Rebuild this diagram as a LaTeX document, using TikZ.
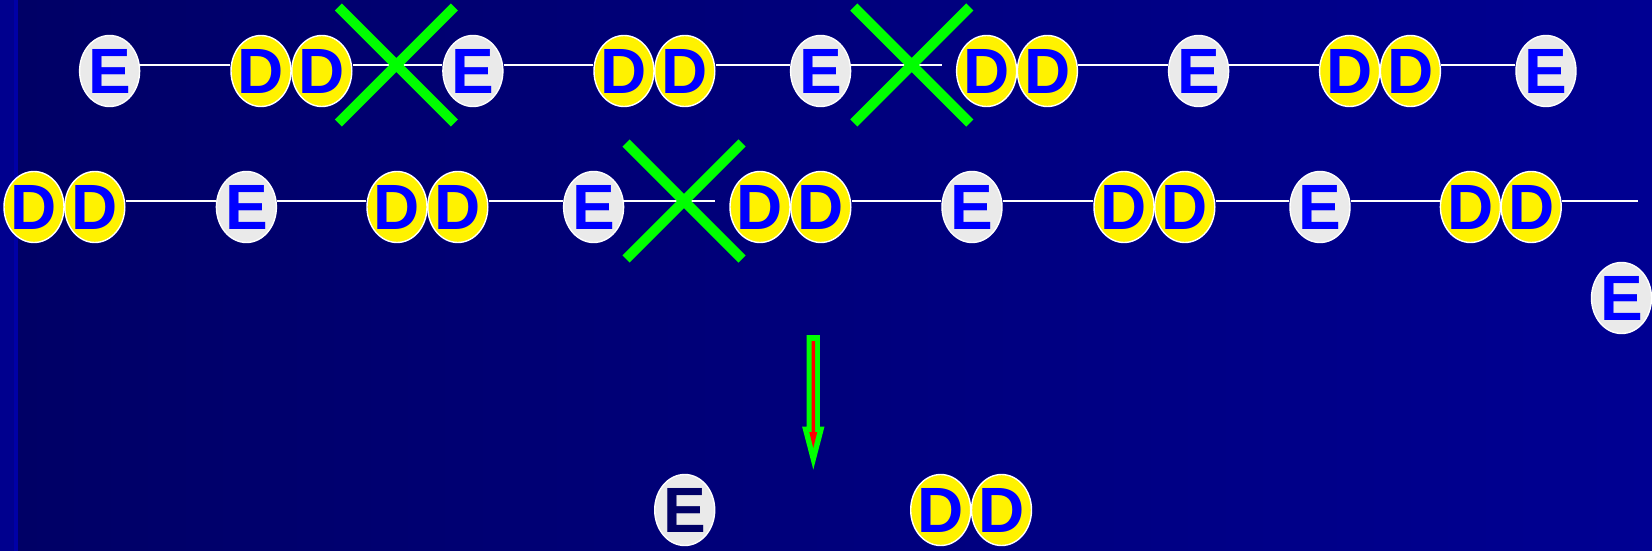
\documentclass[tikz,border=0pt]{standalone}
\usepackage{fontspec}
\setmainfont{Liberation Sans}
\usetikzlibrary{shapes.geometric}

\definecolor{navyA}{HTML}{000066}
\definecolor{navyB}{HTML}{000092}
\definecolor{edgeblue}{HTML}{00008E}
\definecolor{stripeblue}{HTML}{0000A6}
\definecolor{paleE}{HTML}{EAEAEA}
\definecolor{letterblue}{HTML}{0000FF}
\definecolor{crossgreen}{HTML}{00FF00}

\tikzset{
  token/.style={ellipse, draw=white, line width=1.4pt, minimum width=60pt,
    minimum height=71pt, inner sep=0pt,
    font=\bfseries\fontsize{64}{64}\selectfont, text=letterblue},
  enode/.style={token, fill=paleE},
  dnode/.style={token, fill=yellow},
  link/.style={white, line width=2pt},
  cross/.style={crossgreen, line width=10pt},
}
\newcommand{\tokE}{\makebox[0pt]{E}}
\newcommand{\tokD}{\makebox[0pt]{D}}

\begin{document}
\begin{tikzpicture}[x=1pt, y=-1pt]
  \useasboundingbox (0,0) rectangle (1652,551);
  % backdrop
  \fill[edgeblue] (0,0) rectangle (14,551);
  \fill[stripeblue] (14,0) rectangle (18,551);
  \shade[left color=navyA, right color=navyB] (18,0) rectangle (1652,551);

  % ---- first row ----
  \node[enode] (ra1) at (109.6,71) {\tokE};
  \node[dnode] (ra2) at (261,71) {\tokD};
  \node[dnode] (ra3) at (321.8,71) {\tokD};
  \node[enode] (ra4) at (472.9,71) {\tokE};
  \node[dnode] (ra5) at (624,71) {\tokD};
  \node[dnode] (ra6) at (684.8,71) {\tokD};
  \node[enode] (ra7) at (820.6,71) {\tokE};
  \node[dnode] (ra8) at (986.6,71) {\tokD};
  \node[dnode] (ra9) at (1047.4,71) {\tokD};
  \node[enode] (ra10) at (1198.6,71) {\tokE};
  \node[dnode] (ra11) at (1349.6,71) {\tokD};
  \node[dnode] (ra12) at (1410.4,71) {\tokD};
  \node[enode] (ra13) at (1546,71) {\tokE};
  \coordinate (raend) at (942,65);

  \draw[link] ([yshift=6pt]ra1.east) -- ([yshift=6pt]ra2.west);
  \draw[link] ([yshift=6pt]ra3.east) -- ([yshift=6pt]ra4.west);
  \draw[link] ([yshift=6pt]ra4.east) -- ([yshift=6pt]ra5.west);
  \draw[link] ([yshift=6pt]ra6.east) -- ([yshift=6pt]ra7.west);
  \draw[link] ([yshift=6pt]ra7.east) -- (raend);
  \draw[link] ([yshift=6pt]ra9.east) -- ([yshift=6pt]ra10.west);
  \draw[link] ([yshift=6pt]ra10.east) -- ([yshift=6pt]ra11.west);
  \draw[link] ([yshift=6pt]ra12.east) -- ([yshift=6pt]ra13.west);

  % ---- second row ----
  \node[dnode] (rb1) at (34,207) {\tokD};
  \node[dnode] (rb2) at (94.8,207) {\tokD};
  \node[enode] (rb3) at (246.4,207) {\tokE};
  \node[dnode] (rb4) at (397,207) {\tokD};
  \node[dnode] (rb5) at (457.8,207) {\tokD};
  \node[enode] (rb6) at (593.6,207) {\tokE};
  \node[dnode] (rb7) at (760,207) {\tokD};
  \node[dnode] (rb8) at (820.8,207) {\tokD};
  \node[enode] (rb9) at (972,207) {\tokE};
  \node[dnode] (rb10) at (1124,207) {\tokD};
  \node[dnode] (rb11) at (1184.8,207) {\tokD};
  \node[enode] (rb12) at (1320,207) {\tokE};
  \node[dnode] (rb13) at (1470.4,207) {\tokD};
  \node[dnode] (rb14) at (1531.2,207) {\tokD};
  \coordinate (rbcut) at (715.4,201);
  \coordinate (rbend) at (1638,201);

  \draw[link] ([yshift=6pt]rb2.east) -- ([yshift=6pt]rb3.west);
  \draw[link] ([yshift=6pt]rb3.east) -- ([yshift=6pt]rb4.west);
  \draw[link] ([yshift=6pt]rb5.east) -- ([yshift=6pt]rb6.west);
  \draw[link] ([yshift=6pt]rb6.east) -- (rbcut);
  \draw[link] ([yshift=6pt]rb8.east) -- ([yshift=6pt]rb9.west);
  \draw[link] ([yshift=6pt]rb9.east) -- ([yshift=6pt]rb10.west);
  \draw[link] ([yshift=6pt]rb11.east) -- ([yshift=6pt]rb12.west);
  \draw[link] ([yshift=6pt]rb12.east) -- ([yshift=6pt]rb13.west);
  \draw[link] ([yshift=6pt]rb14.east) -- (rbend);

  \node[enode] (spare) at (1621.5,298) {\tokE};

  % ---- crossings-out ----
  \coordinate (xa) at (396.4,65);
  \coordinate (xb) at (911.8,65);
  \coordinate (xc) at (684,201);
  \foreach \c in {xa,xb,xc}
    \draw[cross] (\c) +(-58,-58) -- +(58,58) (\c) +(-58,58) -- +(58,-58);

  % ---- downward arrow ----
  \coordinate (arr) at (813.3,335);
  \fill[crossgreen] (arr) +(-6.6,0) -- +(6.6,0) -- +(6.6,91.5) -- +(11.2,91.5)
    -- +(0,134.5) -- +(-11.2,91.5) -- +(-6.6,91.5) -- cycle;
  \fill[red] (arr) +(-1.7,6) -- +(1.7,6) -- +(1.7,97) -- +(4,97)
    -- +(0,113) -- +(-4,97) -- +(-1.7,97) -- cycle;

  % ---- result ----
  \node[enode, text=navyA] (outE) at (684.7,510) {\tokE};
  \node[dnode] (outD1) at (940.7,510) {\tokD};
  \node[dnode] (outD2) at (1001.5,510) {\tokD};
\end{tikzpicture}
\end{document}
